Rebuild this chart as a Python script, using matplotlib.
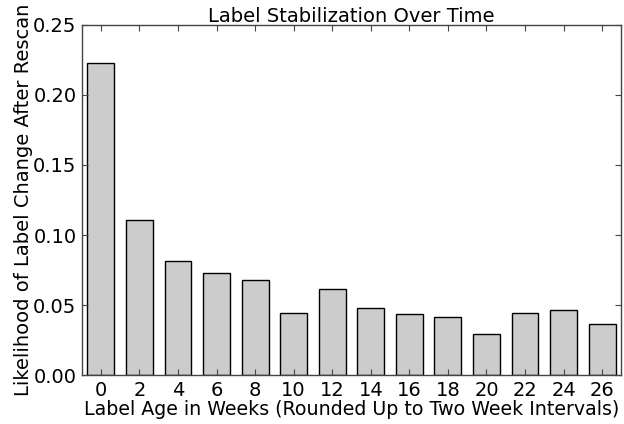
import numpy as np
import matplotlib
matplotlib.use("Agg")
import matplotlib.pyplot as plt

# Label age bins (weeks) and the likelihood of a label change after rescan
weeks = [0, 2, 4, 6, 8, 10, 12, 14, 16, 18, 20, 22, 24, 26]
change_rate = [0.2223, 0.1108, 0.0817, 0.0732, 0.0682, 0.0447, 0.0618,
               0.0483, 0.0440, 0.0419, 0.0298, 0.0447, 0.0469, 0.0369]

fig = plt.figure(figsize=(6.24, 4.24), dpi=100)
ax = fig.add_axes([0.1314, 0.1144, 0.8638, 0.8278])

x = np.arange(len(weeks))
ax.bar(x, change_rate, width=0.7, color="#cccccc", edgecolor="black", linewidth=1)

ax.set_xlim(-0.49, len(weeks) - 1 + 0.49)
ax.set_ylim(0, 0.25)
ax.set_xticks(x)
ax.set_xticklabels([str(w) for w in weeks])
ax.set_yticks([0.0, 0.05, 0.10, 0.15, 0.20, 0.25])
ax.set_yticklabels(["0.00", "0.05", "0.10", "0.15", "0.20", "0.25"])

ax.tick_params(direction="in", length=4, width=0.8, labelsize=14,
               top=True, right=True, pad=4, color="#444444")
for s in ax.spines.values():
    s.set_color("#444444")
    s.set_linewidth(1)

ax.set_title("Label Stabilization Over Time", fontsize=14, pad=2)
ax.set_xlabel("Label Age in Weeks (Rounded Up to Two Week Intervals)", fontsize=13.7, labelpad=0)
ax.set_ylabel("Likelihood of Label Change After Rescan", fontsize=14, labelpad=0)

fig.savefig("out.png", dpi=100)
